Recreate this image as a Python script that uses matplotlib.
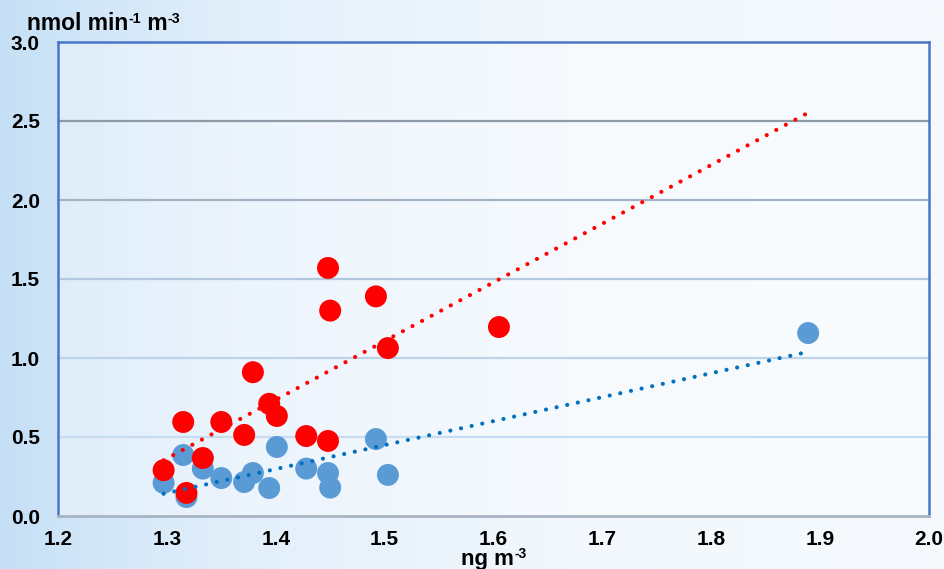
import numpy as np
import matplotlib
matplotlib.use('Agg')
import matplotlib.pyplot as plt
from matplotlib.colors import LinearSegmentedColormap

plt.rcParams['font.family'] = ['Liberation Sans', 'DejaVu Sans']

# concentration (ng m-3) vs rate (nmol min-1 m-3)
red_x = [1.297, 1.315, 1.318, 1.333, 1.350, 1.371, 1.379, 1.394, 1.401,
         1.428, 1.448, 1.448, 1.450, 1.492, 1.503, 1.605]
red_y = [0.29, 0.595, 0.146, 0.367, 0.595, 0.513, 0.91, 0.71, 0.633,
         0.506, 0.475, 1.57, 1.30, 1.39, 1.063, 1.196]
blue_x = [1.297, 1.315, 1.318, 1.333, 1.350, 1.371, 1.379, 1.394, 1.401,
          1.428, 1.448, 1.450, 1.492, 1.503, 1.889]
blue_y = [0.21, 0.386, 0.12, 0.30, 0.24, 0.215, 0.272, 0.177, 0.437,
          0.30, 0.272, 0.18, 0.487, 0.26, 1.158]

x_ticks = [1.2, 1.3, 1.4, 1.5, 1.6, 1.7, 1.8, 1.9, 2.0]
y_ticks = [0.0, 0.5, 1.0, 1.5, 2.0, 2.5, 3.0]
grid_colors = {0.5: '#c6dcf0', 1.0: '#bcd3ea', 1.5: '#b3c8de',
               2.0: '#a3b3c4', 2.5: '#8e9aa6'}

y_unit = [('nmol min', False), ('-1', True), (' m', False), ('-3', True)]
x_unit = [('ng m', False), ('-3', True)]

fig = plt.figure(figsize=(9.45, 5.69), dpi=100)
renderer = fig.canvas.get_renderer()


def unit_label(x, y, parts, size, ha='left'):
    # base text with small raised pieces, laid out left to right in pixels
    texts = []
    cx = x
    for s, sup in parts:
        t = fig.text(cx / 945, 1 - (y - (size * 0.45 if sup else 0)) / 569, s,
                     fontsize=size * 0.62 if sup else size, fontweight='bold',
                     va='baseline', ha='left')
        bb = t.get_window_extent(renderer)
        cx += bb.width
        texts.append(t)
    if ha == 'center':
        shift = (cx - x) / 2
        for t in texts:
            px, py = t.get_position()
            t.set_position((px - shift / 945, py))


# soft blue-to-white background
bg = fig.add_axes([0, 0, 1, 1], zorder=-10)
cmap = LinearSegmentedColormap.from_list('bg', ['#c4dff6', '#e2effb', '#f2f8fd', '#f6fafe'])
grad = np.linspace(0, 1, 512) ** 0.8
bg.imshow(np.vstack([grad, grad]), aspect='auto', cmap=cmap, extent=[0, 1, 0, 1])
bg.set_axis_off()

ax = fig.add_axes([58 / 945, 1 - 516 / 569, 871 / 945, 474 / 569])
ax.set_facecolor((1, 1, 1, 0.35))
ax.set_xlim(1.2, 2.0)
ax.set_ylim(0, 3.0)

for y, c in grid_colors.items():
    ax.axhline(y, color=c, lw=1.6, zorder=1)

ax.scatter(blue_x, blue_y, s=250, color='#5b9bd5', edgecolors='none', zorder=3)
ax.scatter(red_x, red_y, s=250, color='#ff0000', edgecolors='none', zorder=4)

# linear trend lines over the full x range of the data
all_x = np.array(red_x + blue_x)
xs = np.array([all_x.min(), all_x.max()])
for px, py, col in [(red_x, red_y, '#ff0000'), (blue_x, blue_y, '#0070c0')]:
    k, b = np.polyfit(px, py, 1)
    ax.plot(xs, k * xs + b, color=col, lw=3.0, ls=(0, (0.01, 2.6)),
            dash_capstyle='round', zorder=5)

for side in ['left', 'top', 'right']:
    ax.spines[side].set_color('#4a76c8')
    ax.spines[side].set_linewidth(1.8)
ax.spines['bottom'].set_color('#a9b4c2')
ax.spines['bottom'].set_linewidth(2.0)

ax.set_xticks(x_ticks)
ax.set_yticks(y_ticks)
ax.set_xticklabels(['{:.1f}'.format(v) for v in x_ticks])
ax.set_yticklabels(['{:.1f}'.format(v) for v in y_ticks])
ax.tick_params(length=0, labelsize=15, colors='black')
ax.tick_params(axis='x', pad=10)
ax.tick_params(axis='y', pad=13)
for lab in ax.get_xticklabels() + ax.get_yticklabels():
    lab.set_fontweight('bold')

unit_label(27, 30, y_unit, 16.5)
unit_label(494, 565, x_unit, 16, ha='center')

fig.savefig('out.png', dpi=100)
